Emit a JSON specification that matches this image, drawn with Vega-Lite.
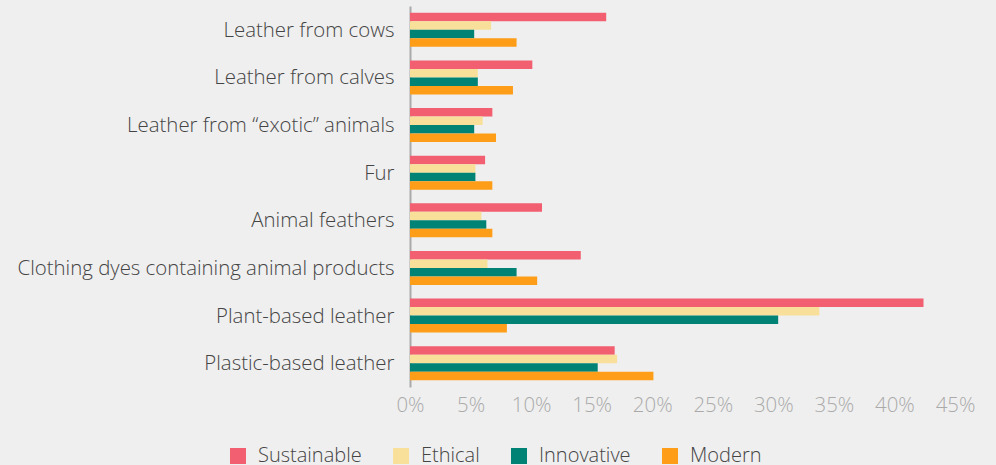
{
  "$schema": "https://vega.github.io/schema/vega-lite/v6.json",
  "autosize": {"type": "none"},
  "width": 545,
  "height": 381,
  "padding": {"left": 410, "top": 6, "right": 41, "bottom": 78},
  "background": "#efefef",
  "config": {"view": {"stroke": null}, "font": "Open Sans"},
  "data": {"values": [
    {"item": "Leather from cows", "series": "Sustainable", "value": 16.2},
    {"item": "Leather from cows", "series": "Ethical", "value": 6.7},
    {"item": "Leather from cows", "series": "Innovative", "value": 5.3},
    {"item": "Leather from cows", "series": "Modern", "value": 8.8},
    {"item": "Leather from calves", "series": "Sustainable", "value": 10.1},
    {"item": "Leather from calves", "series": "Ethical", "value": 5.6},
    {"item": "Leather from calves", "series": "Innovative", "value": 5.6},
    {"item": "Leather from calves", "series": "Modern", "value": 8.5},
    {"item": "Leather from “exotic” animals", "series": "Sustainable", "value": 6.8},
    {"item": "Leather from “exotic” animals", "series": "Ethical", "value": 6.0},
    {"item": "Leather from “exotic” animals", "series": "Innovative", "value": 5.3},
    {"item": "Leather from “exotic” animals", "series": "Modern", "value": 7.1},
    {"item": "Fur", "series": "Sustainable", "value": 6.2},
    {"item": "Fur", "series": "Ethical", "value": 5.4},
    {"item": "Fur", "series": "Innovative", "value": 5.4},
    {"item": "Fur", "series": "Modern", "value": 6.8},
    {"item": "Animal feathers", "series": "Sustainable", "value": 10.9},
    {"item": "Animal feathers", "series": "Ethical", "value": 5.9},
    {"item": "Animal feathers", "series": "Innovative", "value": 6.3},
    {"item": "Animal feathers", "series": "Modern", "value": 6.8},
    {"item": "Clothing dyes containing animal products", "series": "Sustainable", "value": 14.1},
    {"item": "Clothing dyes containing animal products", "series": "Ethical", "value": 6.4},
    {"item": "Clothing dyes containing animal products", "series": "Innovative", "value": 8.8},
    {"item": "Clothing dyes containing animal products", "series": "Modern", "value": 10.5},
    {"item": "Plant-based leather", "series": "Sustainable", "value": 42.4},
    {"item": "Plant-based leather", "series": "Ethical", "value": 33.8},
    {"item": "Plant-based leather", "series": "Innovative", "value": 30.4},
    {"item": "Plant-based leather", "series": "Modern", "value": 8.0},
    {"item": "Plastic-based leather", "series": "Sustainable", "value": 16.9},
    {"item": "Plastic-based leather", "series": "Ethical", "value": 17.1},
    {"item": "Plastic-based leather", "series": "Innovative", "value": 15.5},
    {"item": "Plastic-based leather", "series": "Modern", "value": 20.1}
  ]},
  "mark": {"type": "bar"},
  "encoding": {
    "y": {
      "field": "item", "type": "nominal", "sort": null,
      "scale": {"paddingInner": 0.286, "paddingOuter": 0.143},
      "axis": {"title": null, "ticks": false, "domain": true, "domainColor": "#aaaaaa", "domainWidth": 2,
               "labelFontSize": 20.4, "labelFontWeight": 300, "labelColor": "#444444", "labelPadding": 16,
               "labelLimit": 420, "labelOffset": 1}
    },
    "yOffset": {
      "field": "series", "type": "nominal",
      "sort": ["Sustainable", "Ethical", "Innovative", "Modern"],
      "scale": {"paddingInner": 0, "paddingOuter": 0}
    },
    "x": {
      "field": "value", "type": "quantitative",
      "scale": {"domain": [0, 45], "nice": false},
      "axis": {"title": null, "grid": false, "ticks": false, "domain": false,
               "values": [0, 5, 10, 15, 20, 25, 30, 35, 40, 45],
               "labelExpr": "datum.value + '%'", "labelFontSize": 20.4, "labelFontWeight": 300, "labelColor": "#aaaaaa",
               "labelPadding": 8, "labelFlush": false}
    },
    "color": {
      "field": "series", "type": "nominal",
      "sort": ["Sustainable", "Ethical", "Innovative", "Modern"],
      "scale": {"domain": ["Sustainable", "Ethical", "Innovative", "Modern"],
                "range": ["#f25f70", "#f9e09a", "#008375", "#fd9d18"]},
      "legend": {"title": null, "orient": "none", "direction": "horizontal",
                 "legendX": -182, "legendY": 440, "symbolType": "square", "symbolSize": 256,
                 "symbolStrokeWidth": 0, "labelFontSize": 20, "labelFontWeight": 300, "labelColor": "#444444",
                 "labelOffset": 10, "columnPadding": 29, "symbolOffset": 0, "padding": 0}
    }
  }
}
